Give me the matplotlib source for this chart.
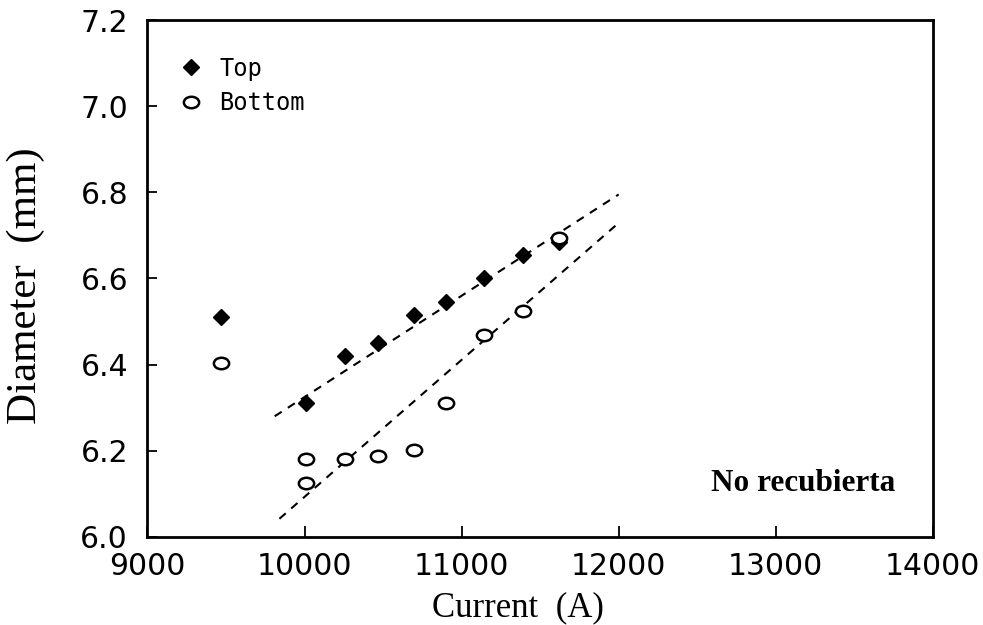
import matplotlib
matplotlib.use("Agg")
import matplotlib.pyplot as plt
from matplotlib.path import Path
from matplotlib.transforms import Affine2D

# Data
top_current = [9470, 10010, 10260, 10470, 10700, 10900, 11140, 11390, 11620]
top_diam = [6.51, 6.31, 6.42, 6.45, 6.515, 6.545, 6.60, 6.655, 6.685]
bot_current = [9470, 10010, 10010, 10260, 10470, 10700, 10900, 11140, 11390, 11620]
bot_diam = [6.404, 6.18, 6.125, 6.181, 6.188, 6.202, 6.311, 6.469, 6.525, 6.694]
top_fit_x = [9810, 12000]
top_fit_y = [6.28, 6.795]
bot_fit_x = [9840, 12000]
bot_fit_y = [6.042, 6.729]
xticks = [9000, 10000, 11000, 12000, 13000, 14000]
yticks = [6.0, 6.2, 6.4, 6.6, 6.8, 7.0, 7.2]

ellipse = Path.unit_circle().transformed(Affine2D().scale(1.0, 0.75))

fig = plt.figure(figsize=(9.83, 6.25), dpi=100)
ax = fig.add_axes([0.150, 0.141, 0.799, 0.827])

ax.plot(top_fit_x, top_fit_y, ls=(0, (4, 3.5)), color="black", lw=1.5)
ax.plot(bot_fit_x, bot_fit_y, ls=(0, (4, 3.5)), color="black", lw=1.5)
ax.plot(top_current, top_diam, ls="none", marker="D", ms=8.5, color="black", label="Top")
ax.plot(bot_current, bot_diam, ls="none", marker=ellipse, ms=11, mfc="white", mec="black",
        mew=1.8, label="Bottom")

ax.set_xlim(9000, 14000)
ax.set_ylim(6.0, 7.2)
ax.set_xticks(xticks)
ax.set_yticks(yticks)
ax.set_xticklabels([str(v) for v in xticks], fontsize=21.5, family="DejaVu Sans")
ax.set_yticklabels([f"{v:.1f}" for v in yticks], fontsize=21.5, family="DejaVu Sans")
ax.tick_params(axis="x", direction="in", length=8, width=1.3, pad=11)
ax.tick_params(axis="y", direction="in", length=7, width=1.3, pad=14)
for s in ax.spines.values():
    s.set_linewidth(2.0)

ax.set_xlabel("Current  (A)", family="Liberation Serif", fontsize=25)
ax.xaxis.set_label_coords(0.472, -0.105)
ax.set_ylabel("Diameter  (mm)", family="Liberation Serif", fontsize=31)
ax.yaxis.set_label_coords(-0.130, 0.486)

ax.text(0.835, 0.104, "No recubierta", transform=ax.transAxes, ha="center", va="center",
        family="Liberation Serif", fontweight="bold", fontsize=22.5)

leg = ax.legend(loc="upper left", bbox_to_anchor=(0.042, 0.929), frameon=False,
                prop={"family": "DejaVu Sans Mono", "size": 17},
                handlelength=0.9, handletextpad=0.75, borderaxespad=0, borderpad=0,
                labelspacing=0.45, numpoints=1)

fig.savefig("out.png", dpi=100, facecolor="white")
